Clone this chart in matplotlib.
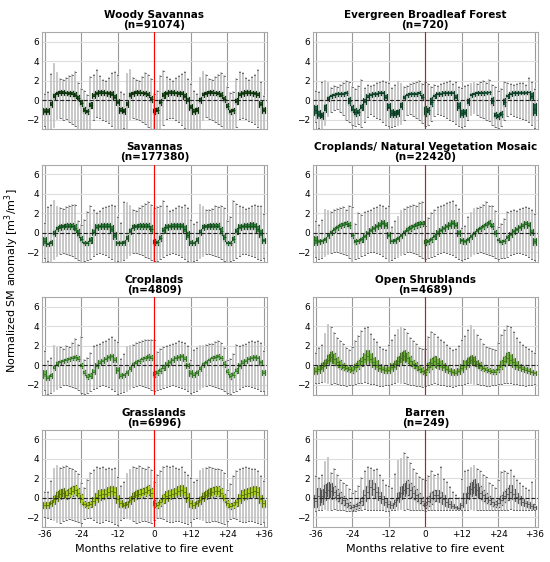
import matplotlib
matplotlib.use("Agg")
import matplotlib.pyplot as plt

months = list(range(-36, 37))
tick_pos = [-36, -24, -12, 0, 12, 24, 36]
tick_lab = ['-36', '-24', '-12', '0', '+12', '+24', '+36']

titles = ['Woody Savannas', 'Evergreen Broadleaf Forest', 'Savannas',
          'Croplands/ Natural Vegetation Mosaic', 'Croplands', 'Open Shrublands',
          'Grasslands', 'Barren']
counts = [91074, 720, 177380, 22420, 4809, 4689, 6996, 249]
colors = ['#1f5c1f', '#1d6a45', '#2f8a3c', '#3e9e3e', '#5eb843', '#78c240', '#b8e31e', '#d6d6d6']
edge_colors = ['#0e2e0e', '#0e3a24', '#1a4d22', '#245c24', '#36702a', '#466f26', '#5a7010', '#555555']

# one value per month, -36 ... +36 (rows = 12 months)
woody_q1 = [-1.45, -1.4, -0.7, 0.1, 0.45, 0.5, 0.5, 0.5, 0.45, 0.4, 0.2, -0.1,
            -0.6, -1.3, -1.45, -0.8, 0.2, 0.45, 0.5, 0.5, 0.5, 0.45, 0.3, 0.0,
            -0.5, -1.3, -1.45, -0.7, 0.2, 0.45, 0.5, 0.5, 0.5, 0.45, 0.3, -0.2,
            -1.45, -1.3, -0.5, 0.25, 0.45, 0.5, 0.5, 0.5, 0.45, 0.4, 0.1, -0.3,
            -1.0, -1.4, -1.3, -0.3, 0.3, 0.45, 0.5, 0.5, 0.5, 0.45, 0.2, -0.2,
            -0.9, -1.45, -1.35, -0.4, 0.3, 0.45, 0.5, 0.5, 0.5, 0.45, 0.3, -0.7,
            -1.3]
woody_q3 = [-0.8, -0.75, -0.1, 0.7, 1.0, 1.05, 1.05, 1.0, 1.0, 0.95, 0.8, 0.5,
            0.0, -0.7, -0.85, -0.2, 0.75, 1.0, 1.05, 1.05, 1.0, 1.0, 0.9, 0.6,
            0.1, -0.7, -0.8, -0.1, 0.8, 1.0, 1.05, 1.05, 1.0, 1.0, 0.85, 0.4,
            -0.8, -0.7, 0.1, 0.8, 1.0, 1.05, 1.05, 1.0, 1.0, 0.95, 0.7, 0.3,
            -0.4, -0.8, -0.7, 0.3, 0.85, 1.0, 1.05, 1.05, 1.0, 0.95, 0.8, 0.4,
            -0.3, -0.85, -0.75, 0.2, 0.85, 1.0, 1.05, 1.05, 1.0, 1.0, 0.85, -0.1,
            -0.7]
woody_hi = [0.6, 0.8, 2.7, 3.7, 2.8, 2.2, 2.1, 2.3, 2.5, 2.6, 2.9, 1.8,
            1.2, 0.9, 0.5, 2.4, 2.6, 3.1, 2.5, 2.1, 2.0, 2.3, 2.8, 2.9,
            2.6, 0.8, 0.6, 2.7, 3.1, 2.3, 2.1, 2.0, 2.4, 2.8, 2.6, 2.2,
            0.6, 1.0, 2.5, 3.0, 2.4, 2.2, 2.0, 2.3, 2.5, 2.7, 2.9, 2.2,
            1.7, 0.9, 0.6, 2.3, 2.9, 2.6, 2.2, 2.1, 2.4, 2.6, 2.8, 2.5,
            1.4, 0.7, 0.8, 2.2, 2.9, 2.8, 2.3, 2.1, 2.4, 2.6, 3.1, 1.9,
            0.4]
woody_lo = [-2.6, -3.3, -3.0, -2.7, -1.9, -1.8, -2.0, -1.9, -2.2, -2.4, -2.6, -3.1,
            -3.2, -3.1, -2.9, -3.0, -2.0, -1.7, -1.8, -2.0, -2.1, -2.3, -2.6, -2.9,
            -3.1, -3.2, -2.8, -2.9, -1.9, -1.8, -1.9, -2.0, -2.2, -2.4, -2.7, -3.0,
            -3.2, -3.0, -2.9, -2.5, -1.9, -1.8, -1.8, -2.0, -2.2, -2.5, -2.8, -3.0,
            -3.1, -3.2, -3.0, -2.8, -2.0, -1.7, -1.9, -2.0, -2.2, -2.4, -2.6, -3.0,
            -3.0, -3.2, -3.1, -2.7, -1.9, -1.8, -1.9, -2.1, -2.2, -2.4, -2.7, -3.1,
            -3.1]

ebf_q1 = [-1.5, -1.8, -1.9, -1.2, -0.1, 0.2, 0.35, 0.4, 0.4, 0.45, 0.5, -0.5,
          -1.2, -1.6, -1.5, -1.0, -0.4, 0.1, 0.35, 0.4, 0.45, 0.5, 0.55, 0.0,
          -1.0, -1.7, -1.7, -1.6, -0.9, 0.0, 0.35, 0.4, 0.45, 0.45, 0.5, 0.0,
          -1.6, -1.4, -0.6, 0.2, 0.4, 0.45, 0.5, 0.5, 0.55, 0.6, 0.0, -1.0,
          -1.7, -1.6, -0.5, 0.3, 0.45, 0.5, 0.5, 0.55, 0.6, 0.6, -0.5, -1.8,
          -1.9, -1.7, -0.6, 0.2, 0.45, 0.5, 0.55, 0.6, 0.6, 0.6, 0.65, 0.0,
          -1.5]
ebf_q3 = [-0.5, -1.0, -1.2, -0.4, 0.4, 0.6, 0.75, 0.8, 0.8, 0.85, 0.9, 0.3,
          -0.5, -0.8, -0.9, -0.4, 0.2, 0.6, 0.75, 0.8, 0.85, 0.9, 1.0, 0.6,
          -0.3, -0.9, -1.0, -0.9, -0.2, 0.5, 0.75, 0.8, 0.85, 0.85, 0.9, 0.6,
          -0.6, -0.7, 0.3, 0.6, 0.8, 0.85, 0.9, 0.9, 0.9, 0.95, 0.6, -0.2,
          -0.9, -0.9, 0.2, 0.7, 0.85, 0.9, 0.9, 0.95, 0.95, 1.0, 0.3, -1.2,
          -1.3, -1.1, 0.2, 0.6, 0.85, 0.9, 0.95, 0.95, 0.95, 0.95, 0.95, 0.8,
          -0.3]
ebf_hi = [0.9, 0.8, 1.9, 2.0, 1.8, 1.3, 1.5, 1.4, 1.6, 1.8, 2.0, 1.9,
          1.4, 1.2, 1.5, 2.1, 1.3, 1.6, 1.5, 1.6, 1.8, 1.9, 2.0, 1.9,
          1.8, 1.3, 1.6, 1.9, 1.7, 1.4, 1.5, 1.7, 1.8, 1.9, 2.0, 1.7,
          1.9, 1.7, 1.4, 1.6, 1.5, 1.7, 1.8, 1.9, 2.0, 1.7, 1.9, 1.4,
          1.3, 1.5, 1.6, 1.7, 1.8, 1.7, 1.9, 2.0, 1.8, 2.1, 1.6, 1.4,
          1.0, 1.2, 1.9, 1.8, 1.7, 1.6, 1.7, 1.8, 1.8, 1.6, 2.3, 1.9,
          1.2]
ebf_lo = [-2.2, -2.8, -2.9, -2.5, -1.6, -1.2, -1.0, -0.9, -1.2, -1.5, -2.0, -2.2,
          -2.5, -2.6, -2.4, -2.7, -2.2, -1.7, -1.4, -1.6, -1.8, -1.9, -2.2, -2.5,
          -2.6, -2.7, -2.6, -2.5, -2.4, -2.0, -1.5, -1.4, -1.6, -1.8, -2.0, -2.3,
          -2.6, -2.5, -2.1, -1.6, -1.4, -1.5, -1.6, -1.8, -2.0, -2.1, -2.4, -2.6,
          -2.7, -2.6, -2.0, -1.5, -1.3, -1.5, -1.7, -1.8, -2.0, -2.1, -2.5, -2.7,
          -2.8, -2.6, -2.0, -1.6, -1.4, -1.6, -1.7, -1.8, -1.9, -2.0, -2.2, -2.5,
          -2.8]

sav_q1 = [-1.2, -1.4, -1.3, -0.3, 0.2, 0.3, 0.35, 0.4, 0.4, 0.4, 0.1, -0.4,
          -0.9, -1.3, -1.3, -1.0, -0.2, 0.3, 0.35, 0.4, 0.4, 0.4, 0.0, -0.6,
          -1.3, -1.3, -1.2, -0.8, -0.1, 0.3, 0.35, 0.4, 0.4, 0.4, 0.4, 0.0,
          -1.3, -1.2, -0.8, 0.0, 0.3, 0.35, 0.4, 0.4, 0.4, 0.4, 0.0, -0.6,
          -1.3, -1.3, -1.0, -0.2, 0.3, 0.35, 0.4, 0.4, 0.4, 0.4, -0.2, -0.8,
          -1.3, -1.3, -0.9, -0.1, 0.3, 0.35, 0.4, 0.4, 0.4, 0.4, 0.0, -0.4,
          -1.0]
sav_q3 = [-0.4, -0.9, -0.7, 0.3, 0.7, 0.9, 0.95, 1.0, 1.0, 1.0, 0.9, 0.4,
          -0.3, -0.8, -0.8, -0.4, 0.4, 0.9, 0.95, 1.0, 1.05, 1.0, 0.8, 0.1,
          -0.8, -0.8, -0.7, -0.2, 0.5, 0.9, 0.95, 1.0, 1.0, 1.05, 1.0, 0.8,
          -0.6, -0.7, -0.2, 0.6, 0.9, 0.95, 1.0, 1.05, 1.05, 1.0, 0.8, 0.2,
          -0.7, -0.8, -0.4, 0.4, 0.9, 0.95, 1.0, 1.05, 1.05, 1.0, 0.6, -0.1,
          -0.8, -0.8, -0.3, 0.5, 0.9, 0.95, 1.0, 1.05, 1.1, 1.05, 0.8, 0.4,
          -0.5]
sav_hi = [1.0, 2.6, 2.9, 3.3, 2.6, 2.5, 2.4, 2.6, 2.7, 2.9, 2.9, 1.2,
          0.8, 1.3, 2.1, 2.7, 2.3, 2.0, 2.2, 2.5, 2.6, 2.8, 2.9, 2.7,
          1.6, 1.0, 3.2, 3.1, 2.8, 2.3, 2.2, 2.5, 2.7, 3.0, 3.2, 2.9,
          2.5, 2.6, 2.8, 3.3, 2.7, 2.2, 2.3, 2.5, 2.7, 2.6, 2.9, 2.5,
          1.3, 0.9, 1.1, 2.9, 2.6, 2.3, 2.3, 2.4, 2.7, 2.6, 2.8, 2.5,
          1.2, 1.6, 3.3, 3.0, 2.8, 2.6, 2.4, 2.5, 2.7, 2.9, 2.8, 2.7,
          1.9]
sav_lo = [-2.6, -2.9, -3.1, -2.7, -2.4, -2.2, -2.1, -2.2, -2.3, -2.4, -2.6, -2.8,
          -3.0, -2.9, -2.8, -2.7, -2.4, -2.2, -2.1, -2.2, -2.3, -2.5, -2.7, -3.0,
          -2.9, -3.0, -2.8, -2.6, -2.3, -2.1, -2.1, -2.2, -2.3, -2.5, -2.6, -2.8,
          -2.9, -2.9, -2.7, -2.5, -2.3, -2.2, -2.1, -2.2, -2.3, -2.5, -2.7, -2.9,
          -3.0, -2.9, -2.8, -2.6, -2.4, -2.2, -2.2, -2.3, -2.4, -2.5, -2.7, -2.9,
          -3.0, -2.9, -2.8, -2.6, -2.4, -2.2, -2.2, -2.3, -2.4, -2.5, -2.7, -2.8,
          -2.6]

mos_q1 = [-1.2, -1.1, -1.0, -0.9, -0.5, -0.2, 0.1, 0.3, 0.5, 0.6, 0.7, 0.5,
          -0.5, -1.1, -1.0, -0.9, -0.6, -0.3, 0.0, 0.2, 0.4, 0.5, 0.7, 0.5,
          -0.5, -1.0, -1.0, -0.8, -0.5, -0.2, 0.0, 0.2, 0.4, 0.5, 0.6, 0.7,
          -1.2, -1.1, -0.9, -0.6, -0.3, 0.0, 0.2, 0.4, 0.5, 0.7, 0.5, -0.3,
          -1.0, -1.1, -0.9, -0.6, -0.3, 0.0, 0.2, 0.4, 0.6, 0.7, 0.4, -0.3,
          -0.9, -1.1, -1.0, -0.7, -0.4, -0.1, 0.1, 0.3, 0.5, 0.7, 0.5, -0.2,
          -1.2]
mos_q3 = [-0.3, -0.6, -0.6, -0.4, 0.0, 0.3, 0.6, 0.8, 1.0, 1.1, 1.2, 1.1,
          0.0, -0.6, -0.6, -0.4, -0.1, 0.2, 0.5, 0.7, 0.9, 1.1, 1.3, 1.1,
          0.1, -0.6, -0.5, -0.3, 0.0, 0.3, 0.6, 0.8, 0.9, 1.1, 1.2, 1.2,
          -0.6, -0.6, -0.4, -0.1, 0.3, 0.5, 0.7, 0.9, 1.1, 1.3, 1.1, 0.3,
          -0.5, -0.6, -0.4, -0.1, 0.2, 0.5, 0.7, 0.9, 1.1, 1.3, 1.0, 0.3,
          -0.5, -0.7, -0.6, -0.2, 0.1, 0.4, 0.6, 0.8, 1.0, 1.2, 1.1, 0.4,
          -0.5]
mos_hi = [1.2, 0.8, 1.3, 2.3, 2.2, 2.1, 2.3, 2.4, 2.5, 2.6, 2.3, 2.8,
          2.6, 0.9, 2.0, 1.8, 2.1, 2.2, 2.3, 2.5, 2.6, 2.9, 2.8, 2.5,
          2.8, 0.6, 1.2, 1.6, 2.2, 2.4, 2.6, 2.8, 2.9, 2.7, 3.1, 3.2,
          0.7, 1.5, 2.0, 2.3, 2.6, 2.8, 2.9, 3.1, 3.2, 3.3, 2.9, 2.4,
          0.5, 0.7, 1.6, 2.0, 2.4, 2.5, 2.6, 2.9, 3.2, 2.8, 2.7, 2.2,
          0.6, 0.9, 1.4, 2.1, 2.2, 2.3, 2.2, 2.4, 2.5, 2.6, 2.5, 2.3,
          1.9]
mos_lo = [-2.5, -2.7, -2.6, -2.4, -2.2, -2.1, -2.0, -2.0, -2.1, -2.2, -2.3, -2.6,
          -3.0, -2.7, -2.6, -2.4, -2.3, -2.1, -2.0, -2.0, -2.1, -2.2, -2.4, -2.6,
          -3.0, -2.8, -2.6, -2.5, -2.3, -2.2, -2.0, -2.0, -2.1, -2.2, -2.4, -2.6,
          -2.7, -2.6, -2.5, -2.4, -2.2, -2.1, -2.0, -2.1, -2.2, -2.3, -2.5, -2.7,
          -2.8, -2.7, -2.6, -2.4, -2.2, -2.1, -2.0, -2.1, -2.2, -2.3, -2.4, -2.6,
          -2.7, -2.6, -2.6, -2.5, -2.3, -2.2, -2.1, -2.1, -2.2, -2.3, -2.5, -2.7,
          -2.8]

crop_q1 = [-1.3, -1.5, -1.3, -0.5, -0.1, 0.1, 0.2, 0.3, 0.4, 0.5, 0.6, 0.4,
           -0.3, -1.0, -1.4, -1.3, -0.9, -0.3, 0.0, 0.2, 0.4, 0.6, 0.7, 0.3,
           -0.8, -1.3, -1.2, -1.0, -0.6, -0.2, 0.0, 0.2, 0.4, 0.5, 0.6, 0.5,
           -1.2, -1.0, -0.8, -0.5, -0.2, 0.0, 0.3, 0.5, 0.6, 0.7, 0.4, -0.3,
           -1.1, -1.2, -1.0, -0.6, -0.2, 0.0, 0.3, 0.5, 0.6, 0.7, 0.5, -0.2,
           -0.9, -1.4, -1.2, -0.8, -0.3, 0.0, 0.2, 0.4, 0.5, 0.6, 0.5, 0.0,
           -1.0]
crop_q3 = [-0.5, -1.0, -0.8, 0.0, 0.4, 0.6, 0.7, 0.8, 0.9, 1.0, 1.1, 1.0,
           0.2, -0.5, -0.9, -0.8, -0.4, 0.2, 0.5, 0.7, 0.9, 1.1, 1.2, 0.9,
           -0.2, -0.8, -0.8, -0.5, -0.1, 0.3, 0.5, 0.7, 0.9, 1.0, 1.2, 1.1,
           -0.6, -0.5, -0.3, 0.0, 0.3, 0.6, 0.8, 1.0, 1.1, 1.2, 1.0, 0.2,
           -0.5, -0.7, -0.5, -0.1, 0.3, 0.6, 0.8, 1.0, 1.1, 1.2, 1.0, 0.4,
           -0.4, -0.8, -0.7, -0.3, 0.2, 0.5, 0.7, 0.9, 1.0, 1.1, 1.0, 0.6,
           -0.5]
crop_hi = [1.5, 0.4, 0.8, 2.0, 1.8, 1.9, 1.7, 2.0, 1.9, 2.3, 2.7, 2.1,
           2.9, 0.6, 0.8, 1.3, 2.0, 2.1, 2.2, 2.4, 2.5, 2.7, 2.9, 2.6,
           2.4, 0.7, 1.2, 1.9, 2.0, 2.1, 2.3, 2.4, 2.5, 2.6, 2.6, 2.6,
           2.6, 1.4, 1.7, 1.9, 2.0, 2.1, 2.2, 2.3, 2.5, 2.4, 2.3, 2.0,
           0.6, 1.6, 1.8, 2.0, 2.0, 2.1, 2.2, 2.2, 2.4, 2.5, 2.3, 1.8,
           0.5, 0.7, 1.2, 2.1, 2.0, 2.1, 2.2, 2.4, 2.5, 2.4, 2.5, 2.3,
           1.5]
crop_lo = [-2.5, -2.9, -2.8, -2.6, -2.4, -2.2, -2.0, -2.0, -2.1, -2.2, -2.3, -2.5,
           -2.8, -2.9, -2.8, -2.6, -2.4, -2.3, -2.1, -2.0, -2.1, -2.2, -2.4, -2.6,
           -2.9, -2.8, -2.7, -2.6, -2.4, -2.2, -2.1, -2.0, -2.1, -2.2, -2.3, -2.5,
           -2.6, -2.5, -2.4, -2.3, -2.2, -2.1, -2.0, -2.1, -2.2, -2.3, -2.4, -2.6,
           -2.8, -2.7, -2.6, -2.4, -2.2, -2.1, -2.0, -2.1, -2.2, -2.3, -2.4, -2.6,
           -2.8, -2.9, -2.7, -2.6, -2.4, -2.2, -2.1, -2.1, -2.2, -2.3, -2.4, -2.6,
           -2.6]

shrub_q1 = [-0.9, -0.8, -0.6, -0.3, 0.0, 0.2, 0.0, -0.2, -0.4, -0.5, -0.6, -0.7,
            -0.8, -0.6, -0.4, -0.1, 0.1, 0.3, 0.1, -0.2, -0.4, -0.6, -0.7, -0.8,
            -0.8, -0.6, -0.4, -0.1, 0.1, 0.3, 0.2, -0.1, -0.3, -0.5, -0.7, -0.9,
            -1.0, -0.7, -0.4, -0.2, -0.3, -0.4, -0.5, -0.7, -0.8, -1.0, -1.0, -0.9,
            -0.7, -0.4, -0.2, 0.0, -0.1, -0.3, -0.5, -0.6, -0.7, -0.8, -0.9, -0.9,
            -0.7, -0.4, -0.1, 0.1, 0.0, -0.2, -0.4, -0.5, -0.6, -0.7, -0.8, -0.9,
            -1.0]
shrub_q3 = [-0.2, 0.0, 0.3, 0.7, 1.2, 1.5, 1.3, 0.9, 0.5, 0.2, 0.0, -0.1,
            -0.1, 0.2, 0.5, 0.9, 1.3, 1.6, 1.3, 0.9, 0.5, 0.1, -0.1, -0.2,
            -0.1, 0.2, 0.6, 1.0, 1.4, 1.6, 1.4, 1.0, 0.6, 0.3, 0.0, -0.2,
            -0.4, 0.3, 0.8, 1.0, 0.8, 0.5, 0.2, 0.0, -0.3, -0.4, -0.5, -0.3,
            0.1, 0.5, 0.9, 1.1, 1.0, 0.6, 0.3, 0.0, -0.2, -0.3, -0.4, -0.4,
            0.0, 0.5, 1.0, 1.4, 1.2, 0.8, 0.4, 0.1, -0.1, -0.2, -0.3, -0.5,
            -0.6]
shrub_hi = [1.3, 1.8, 2.1, 3.2, 4.1, 3.9, 3.3, 2.8, 2.5, 2.2, 1.8, 1.6,
            1.9, 2.5, 3.0, 3.5, 3.8, 3.9, 3.2, 2.7, 2.4, 1.9, 1.7, 1.6,
            2.1, 2.6, 3.1, 3.6, 3.8, 3.7, 3.3, 2.8, 2.5, 2.2, 1.8, 1.7,
            1.7, 2.9, 3.4, 3.2, 2.9, 2.6, 2.4, 2.1, 1.8, 1.6, 1.7, 2.0,
            2.6, 3.0, 3.6, 4.0, 3.6, 3.1, 2.7, 2.2, 1.9, 1.8, 1.7, 1.6,
            2.3, 3.1, 3.6, 4.0, 3.9, 3.4, 2.8, 2.4, 2.1, 1.9, 1.7, 1.5,
            1.3]
shrub_lo = [-1.8, -1.8, -1.7, -1.7, -1.8, -1.9, -1.8, -1.9, -2.0, -2.0, -2.1, -2.0,
            -2.0, -1.9, -1.8, -1.8, -1.7, -1.8, -1.9, -1.9, -2.0, -2.1, -2.1, -2.0,
            -2.0, -1.9, -1.8, -1.7, -1.8, -1.8, -1.9, -2.0, -2.0, -2.1, -2.1, -2.2,
            -2.1, -2.0, -1.9, -1.8, -1.9, -2.0, -2.0, -2.1, -2.1, -2.2, -2.1, -2.0,
            -2.0, -1.9, -1.8, -1.8, -1.9, -1.9, -2.0, -2.0, -2.1, -2.1, -2.0, -2.0,
            -1.9, -1.9, -1.8, -1.8, -1.8, -1.9, -1.9, -2.0, -2.0, -2.1, -2.0, -2.0,
            -1.9]

grass_q1 = [-1.0, -1.0, -0.8, -0.6, -0.3, -0.1, 0.0, -0.1, 0.1, 0.2, 0.3, 0.0,
            -0.6, -0.9, -1.0, -0.9, -0.7, -0.4, -0.2, -0.1, 0.0, 0.1, 0.2, 0.1,
            -0.5, -0.9, -1.0, -0.9, -0.6, -0.3, -0.1, 0.0, 0.1, 0.2, 0.3, 0.0,
            -0.9, -1.0, -0.8, -0.5, -0.3, -0.1, 0.0, 0.1, 0.2, 0.3, 0.1, -0.4,
            -0.9, -1.0, -0.8, -0.6, -0.3, -0.1, 0.0, 0.1, 0.2, 0.2, 0.0, -0.4,
            -0.9, -1.1, -1.0, -0.8, -0.5, -0.2, -0.1, 0.0, 0.1, 0.2, 0.1, -0.5,
            -0.9]
grass_q3 = [-0.4, -0.4, -0.2, 0.3, 0.7, 0.9, 1.0, 0.8, 1.0, 1.2, 1.3, 1.0,
            0.4, -0.3, -0.4, -0.3, 0.1, 0.5, 0.8, 0.9, 0.9, 1.1, 1.2, 1.1,
            0.3, -0.2, -0.4, -0.3, 0.2, 0.6, 0.8, 0.9, 1.0, 1.1, 1.3, 1.0,
            -0.2, -0.4, -0.1, 0.4, 0.7, 0.8, 0.9, 1.0, 1.2, 1.3, 1.1, 0.5,
            -0.2, -0.4, -0.2, 0.2, 0.6, 0.8, 1.0, 1.1, 1.2, 1.2, 1.0, 0.4,
            -0.2, -0.5, -0.4, -0.1, 0.4, 0.8, 0.9, 1.0, 1.1, 1.2, 1.1, 0.3,
            -0.2]
grass_hi = [0.6, 0.6, 1.7, 3.0, 3.3, 3.1, 3.2, 3.3, 3.1, 3.0, 2.8, 2.5,
            1.5, 1.0, 1.8, 2.6, 2.9, 3.2, 3.1, 3.2, 3.0, 3.1, 3.0, 3.1,
            2.1, 1.2, 1.6, 2.5, 2.9, 3.2, 3.1, 3.3, 3.1, 3.0, 3.2, 2.9,
            1.6, 2.3, 2.8, 3.2, 3.3, 3.2, 3.3, 3.1, 3.0, 3.2, 2.7, 2.4,
            2.0, 1.6, 1.8, 2.8, 3.0, 3.1, 3.2, 3.1, 3.0, 3.0, 2.9, 2.6,
            0.8, 1.4, 2.2, 2.8, 3.0, 3.1, 3.2, 3.1, 3.0, 3.0, 2.8, 2.2,
            1.7]
grass_lo = [-2.0, -2.1, -2.2, -2.3, -2.5, -2.6, -2.4, -2.3, -2.2, -2.3, -2.4, -2.5,
            -2.6, -2.2, -2.1, -2.1, -2.3, -2.5, -2.6, -2.5, -2.3, -2.4, -2.5, -2.7,
            -2.8, -2.3, -2.1, -2.1, -2.2, -2.4, -2.6, -2.5, -2.4, -2.4, -2.5, -2.6,
            -2.3, -2.1, -2.1, -2.2, -2.4, -2.5, -2.5, -2.4, -2.4, -2.5, -2.6, -2.7,
            -2.5, -2.2, -2.1, -2.2, -2.3, -2.5, -2.5, -2.4, -2.4, -2.5, -2.6, -2.7,
            -2.4, -2.2, -2.1, -2.2, -2.4, -2.5, -2.5, -2.4, -2.4, -2.5, -2.6, -2.7,
            -2.5]

barren_q1 = [-0.9, -0.7, -0.6, -0.2, 0.0, -0.1, 0.1, -0.3, -0.5, -0.7, -0.9, -1.0,
             -1.2, -1.1, -1.0, -0.7, -0.3, 0.0, 0.4, 0.3, 0.1, -0.2, -0.5, -0.7,
             -0.9, -1.0, -0.8, -0.4, -0.1, 0.2, 0.3, 0.1, -0.1, -0.3, -0.5, -0.7,
             -1.0, -0.8, -0.6, -0.3, -0.3, -0.4, -0.6, -0.8, -0.9, -1.0, -1.0, -1.1,
             -0.9, -0.5, -0.1, 0.2, 0.3, 0.1, -0.1, -0.3, -0.5, -0.6, -0.8, -0.9,
             -0.9, -0.7, -0.4, -0.2, 0.0, -0.1, -0.3, -0.5, -0.7, -0.8, -0.9, -1.0,
             -1.1]
barren_q3 = [0.3, 1.0, 0.9, 1.4, 1.6, 1.5, 1.2, 0.9, 0.6, 0.2, -0.1, -0.4,
             -0.7, -0.6, -0.4, 0.1, 0.8, 1.2, 1.8, 1.5, 1.1, 0.6, 0.2, -0.1,
             -0.3, -0.5, -0.1, 0.6, 1.2, 1.5, 1.8, 1.5, 1.2, 0.9, 0.5, 0.1,
             -0.4, 0.2, 0.6, 0.8, 0.8, 0.6, 0.3, 0.0, -0.3, -0.6, -0.8, -0.9,
             -0.5, 0.5, 1.2, 1.6, 1.9, 1.5, 1.2, 0.8, 0.5, 0.2, 0.0, -0.3,
             -0.1, 0.3, 0.7, 1.0, 1.3, 0.9, 0.5, 0.2, -0.1, -0.3, -0.4, -0.6,
             -0.8]
barren_hi = [2.2, 2.0, 2.3, 3.7, 4.1, 2.6, 3.0, 2.4, 1.8, 1.5, 1.3, 0.9,
             0.5, 0.7, 1.2, 2.0, 2.8, 3.2, 3.1, 2.9, 3.0, 2.3, 1.8, 1.3,
             1.2, 1.0, 2.5, 3.8, 4.0, 4.6, 4.2, 3.6, 3.0, 2.6, 2.1, 1.9,
             1.8, 2.2, 2.8, 2.3, 2.5, 3.2, 1.9, 1.6, 1.1, 0.6, 0.3, 0.0,
             1.9, 2.8, 2.9, 3.1, 3.3, 3.0, 2.8, 2.3, 2.1, 1.5, 1.3, 1.0,
             1.8, 2.7, 2.8, 2.6, 2.9, 2.2, 1.8, 1.5, 1.2, 1.0, 0.8, 1.6,
             -0.6]
barren_lo = [-1.3, -1.2, -1.2, -1.1, -1.2, -1.2, -1.1, -1.2, -1.2, -1.2, -1.3, -1.3,
             -1.3, -1.3, -1.2, -1.2, -1.1, -1.2, -1.2, -1.2, -1.2, -1.2, -1.2, -1.3,
             -1.3, -1.2, -1.2, -1.2, -1.1, -1.2, -1.1, -1.2, -1.2, -1.2, -1.2, -1.2,
             -1.3, -1.2, -1.2, -1.2, -1.2, -1.2, -1.2, -1.2, -1.2, -1.2, -1.2, -1.2,
             -1.2, -1.2, -1.2, -1.1, -1.2, -1.2, -1.2, -1.2, -1.2, -1.2, -1.2, -1.2,
             -1.2, -1.2, -1.2, -1.2, -1.1, -1.2, -1.2, -1.2, -1.2, -1.2, -1.2, -1.2,
             -1.2]

panels = [
    (woody_q1, woody_q3, woody_lo, woody_hi),
    (ebf_q1, ebf_q3, ebf_lo, ebf_hi),
    (sav_q1, sav_q3, sav_lo, sav_hi),
    (mos_q1, mos_q3, mos_lo, mos_hi),
    (crop_q1, crop_q3, crop_lo, crop_hi),
    (shrub_q1, shrub_q3, shrub_lo, shrub_hi),
    (grass_q1, grass_q3, grass_lo, grass_hi),
    (barren_q1, barren_q3, barren_lo, barren_hi),
]

fig, axes = plt.subplots(4, 2, figsize=(5.5, 5.62), dpi=100, sharex=True)
fig.subplots_adjust(left=0.076, right=0.978, top=0.943, bottom=0.062,
                    hspace=0.36, wspace=0.204)

for k, ax in enumerate(axes.flat):
    q1, q3, lo, hi = panels[k]
    stats = []
    for i in range(len(months)):
        stats.append({'q1': q1[i], 'q3': q3[i], 'med': (q1[i] + q3[i]) / 2,
                      'whislo': lo[i], 'whishi': hi[i], 'fliers': []})
    edge = edge_colors[k]
    ax.bxp(stats, positions=months, widths=0.92, patch_artist=True, showfliers=False,
           boxprops=dict(facecolor=colors[k], edgecolor=edge, linewidth=0.9),
           whiskerprops=dict(color='#c4c4c4', linewidth=1.3),
           capprops=dict(color='#555555', linewidth=0.6),
           medianprops=dict(color=edge, linewidth=0.6),
           capwidths=0.3, manage_ticks=False)
    ax.set_axisbelow(True)
    ax.xaxis.grid(True, color='#999999', linewidth=0.8)
    ax.yaxis.grid(True, color='#dddddd', linewidth=0.8)
    ax.axhline(0, color='#222222', linestyle='--', linewidth=0.8, zorder=3)
    ax.axvline(0, color='red', linewidth=0.8, zorder=4)
    ax.set_xlim(-37, 37)
    ax.set_ylim(-3, 7)
    ax.set_yticks([-2, 0, 2, 4, 6])
    ax.set_xticks(tick_pos)
    ax.set_xticklabels(tick_lab)
    ax.tick_params(labelsize=6.5, length=0, pad=2)
    for s in ax.spines.values():
        s.set_color('#aaaaaa')
        s.set_linewidth(0.8)
    ax.set_title(f'{titles[k]}\n(n={counts[k]})', fontsize=7.5, fontweight='bold',
                 pad=3, linespacing=1.0)
    if k >= 6:
        ax.set_xlabel('Months relative to fire event', fontsize=8, labelpad=4)

fig.text(0.022, 0.5, 'Normalized SM anomaly [m$^3$/m$^3$]', rotation=90,
         va='center', ha='center', fontsize=8)

fig.savefig('out.png', dpi=100)
